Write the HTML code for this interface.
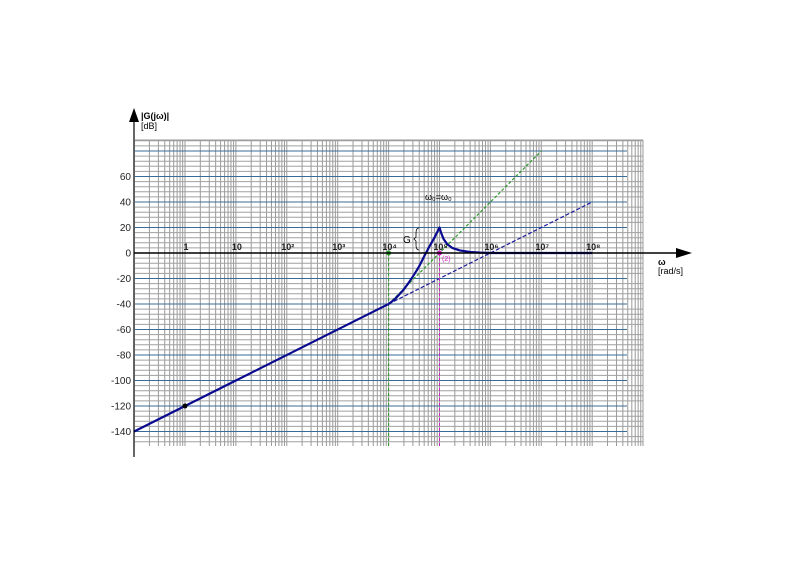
<!DOCTYPE html>
<html><head><meta charset="utf-8"><style>
body{margin:0;background:#fff;width:800px;height:565px;overflow:hidden}
text{font-family:"Liberation Sans",sans-serif}
</style></head><body>
<svg id="c" width="800" height="565" xmlns="http://www.w3.org/2000/svg">
<g id="grid"></g>
<g id="marks"></g>
<g id="axes"></g>
</svg>
<script>
const xTickExps=[0,1,2,3,4,5,6,7,8];
const xTickLabels=["1","10","10²","10³","10⁴","10⁵","10⁶","10⁷","10⁸"];
const yTicks=[60,40,20,0,-20,-40,-60,-80,-100,-120,-140];
const curveLogW=[-1,4,4.1,4.2,4.3,4.4,4.5,4.6,4.7,4.8,4.9,5,5.03,5.08,5.15,5.25,5.4,5.6,5.8,6,8];
const curveDb=[-140,-40,-37,-33,-28.5,-23,-17,-10.5,-2.5,5,12,20,16,11,7,4,2,0.8,0.3,0,0];
const greenAsymLogW=[4,7];
const greenAsymDb=[-40,80];
const blueAsymLogW=[4,8];
const blueAsymDb=[-40,40];

const NS="http://www.w3.org/2000/svg";
const X=l=>185+l*50.9;
const Y=d=>253-d*1.275;
const gG=document.getElementById('grid'),gM=document.getElementById('marks'),gA=document.getElementById('axes');
function mk(p,tag,at,txt){const e=document.createElementNS(NS,tag);for(const k in at)e.setAttribute(k,at[k]);if(txt!==undefined)e.textContent=txt;p.appendChild(e);return e;}
const gx0=135,gx1=643,gy0=140,gy1=446;
for(let d=-1;d<9;d++){for(let k=1;k<=9;k++){const x=X(d+Math.log10(k));if(x>gx1+1)continue;
 const e=mk(gG,'line',{x1:x,x2:x,y1:gy0,y2:gy1,stroke:'#9a9a9a','stroke-width':1});
 
 }}
mk(gG,'line',{x1:gx1,x2:gx1,y1:gy0,y2:gy1,stroke:'#999'});
for(let v=88;v>=-152;v-=4){const y=Y(v);if(y<gy0-0.5||y>gy1+0.5)continue;const major=v%20===0;
 const e=mk(gG,'line',{x1:gx0,x2:major?627:gx1,y1:y,y2:y,stroke:major?'#3a6a9a':'#a0a0a0','stroke-width':1});
 
 }
mk(gG,'line',{x1:gx0,x2:gx1,y1:gy0,y2:gy0,stroke:'#999'});
const pts=(a,b)=>a.map((l,i)=>X(l)+','+Y(b[i])).join(' ');
let e=mk(gM,'polyline',{points:pts(greenAsymLogW,greenAsymDb),fill:'none',stroke:'#2a9a2a','stroke-width':1.2,'stroke-dasharray':'3,2'});

e=mk(gM,'polyline',{points:pts(blueAsymLogW,blueAsymDb),fill:'none',stroke:'#1a1aa0','stroke-width':1.2,'stroke-dasharray':'4,2'});

mk(gM,'line',{x1:X(4),x2:X(4),y1:253,y2:gy1,stroke:'#2a9a2a','stroke-width':1,'stroke-dasharray':'3,2'});
mk(gM,'line',{x1:X(5),x2:X(5),y1:253,y2:gy1,stroke:'#d020c0','stroke-width':1,'stroke-dasharray':'3,2'});
mk(gM,'line',{x1:X(5),x2:X(5.3),y1:253,y2:253,stroke:'#d020c0','stroke-width':1,'stroke-dasharray':'3,2'});
mk(gA,'line',{x1:134,x2:134,y1:118,y2:457,stroke:'#000','stroke-width':1.2});
mk(gA,'polygon',{points:'134,108 129,122 139,122',fill:'#000'});
mk(gA,'line',{x1:134,x2:678,y1:253,y2:253,stroke:'#000','stroke-width':1.5});
mk(gA,'polygon',{points:'692,253 676,248 676,258',fill:'#000'});
xTickExps.forEach((l,i)=>{const t=mk(gA,'text',{x:X(l)+1,y:250,'font-size':9,'font-weight':'bold','text-anchor':'middle',fill:'#222'},xTickLabels[i]);
 });
yTicks.forEach(v=>{const t=mk(gA,'text',{x:131,y:Y(v)+3.5,'font-size':10,'text-anchor':'end',fill:'#222'},String(v));
 });
mk(gA,'text',{x:141,y:119,'font-size':9,'font-weight':'bold'},'|G(jω)|');
mk(gA,'text',{x:141,y:129,'font-size':9},'[dB]');
mk(gA,'text',{x:658,y:265,'font-size':9,'font-weight':'bold'},'ω');
mk(gA,'text',{x:658,y:274,'font-size':9},'[rad/s]');
e=mk(gM,'polyline',{points:pts(curveLogW,curveDb),fill:'none',stroke:'#0a0a90','stroke-width':2.2,'stroke-linejoin':'round'});

mk(gM,'circle',{cx:X(0),cy:Y(-120),r:2.5,fill:'#000'});
mk(gM,'circle',{cx:X(4),cy:253,r:2.5,fill:'#2a9a2a'});
mk(gM,'circle',{cx:X(5),cy:253,r:2.5,fill:'#d020c0'});
mk(gM,'text',{x:442,y:261,'font-size':7,fill:'#d020c0'},'(2)');
mk(gM,'text',{x:425,y:200,'font-size':9},'ω₀=ω₀');
mk(gM,'text',{x:403,y:243,'font-size':10},'G');
mk(gM,'path',{d:'M419,228 q-3,0 -3,5 v4 l-2,2 l2,2 v4 q0,5 3,5',fill:'none',stroke:'#000','stroke-width':0.8});
</script>
</body></html>
